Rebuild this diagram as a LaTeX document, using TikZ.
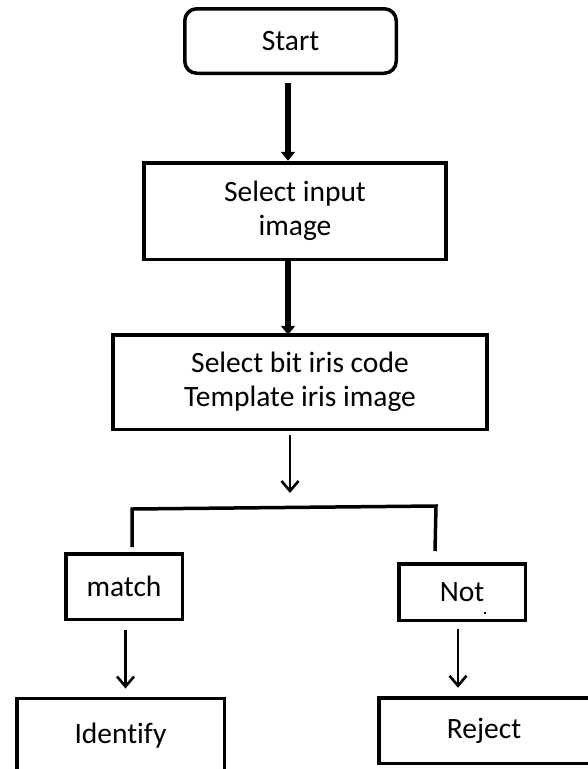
\documentclass[tikz,border=0pt]{standalone}
\usepackage{fontspec}
\setmainfont{Carlito}[Ligatures=NoCommon]
\usetikzlibrary{arrows.meta}
\begin{document}
\begin{tikzpicture}[x=1pt,y=-1pt,
  box/.style={draw, line width=3.5pt, align=center, inner sep=0pt, outer sep=0pt,
              font=\fontsize{29.5}{34}\selectfont},
  thickarrow/.style={line width=6pt, -{Triangle[length=9pt,width=14pt]}},
  thinarrow/.style={line width=2.6pt, -{Straight Barb[length=10pt,width=17pt,line width=2.6pt]}},
  bracket/.style={line width=3.5pt, line join=miter}]
\useasboundingbox (0,0) rectangle (588,769);
\clip (0,0) rectangle (588,769);

\node[box, rounded corners=12pt, minimum width=211.5pt, minimum height=64.5pt] (start) at (290.5,41) {Start};
\node[box, minimum width=302pt, minimum height=96.5pt] (sel) at (295,211) {Select input\\image};
\node[box, minimum width=374pt, minimum height=94.5pt] (code) at (300,382) {Select bit iris code\\Template iris image};
\node[box, minimum width=116.5pt, minimum height=65.5pt] (match) at (124,586.5) {match};
\node[box, minimum width=126.5pt, minimum height=56.5pt] (not) at (462,592) {Not};
\node[box, minimum width=207.5pt, minimum height=74pt] (ident) at (120.5,735.5) {Identify};
\node[box, minimum width=210.5pt, minimum height=65.5pt] (reject) at (484,730.5) {Reject};

\coordinate (ax1) at (288,0);
\coordinate (ax3) at (290,0);
\coordinate (axm) at (125.5,0);
\coordinate (axn) at (458,0);
\coordinate (split) at (290,493);
\coordinate (bl) at (132,547);
\coordinate (tl) at (132,509);
\coordinate (tr) at (436,506);
\coordinate (br) at (435,551);

\draw[thickarrow, shorten <=10pt, shorten >=2pt] (ax1 |- start.south) -- (ax1 |- sel.north);
\draw[thickarrow] (ax1 |- sel.south) -- (ax1 |- code.north);
\draw[thinarrow, shorten <=6pt] (ax3 |- code.south) -- (split);
\draw[bracket] (bl) -- (tl) -- (tr) -- (br);
\draw[thinarrow, shorten <=11pt, shorten >=10pt] (axm |- match.south) -- (axm |- ident.north);
\draw[thinarrow, shorten <=9pt, shorten >=10pt] (axn |- not.south) -- (axn |- reject.north);

\fill (484.3,612.3) rectangle (485.7,613.7);
\end{tikzpicture}
\end{document}
